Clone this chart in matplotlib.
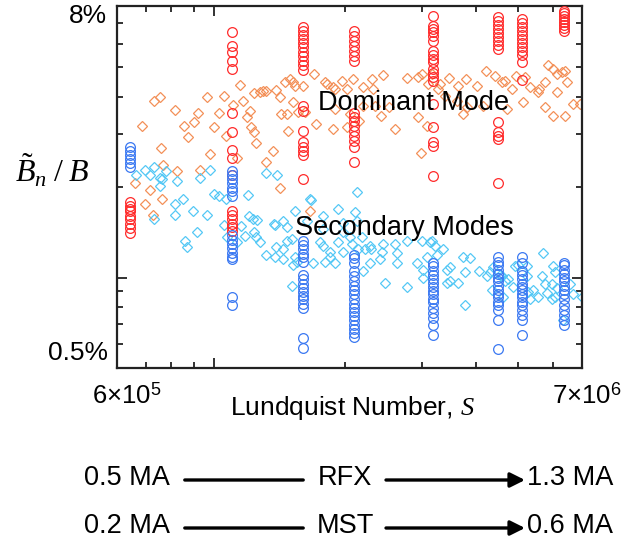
import matplotlib
matplotlib.use('Agg')
import matplotlib.pyplot as plt
from matplotlib.patches import FancyArrowPatch
from matplotlib.ticker import FixedLocator, NullFormatter

plt.rcParams['font.family'] = ['Liberation Sans', 'DejaVu Sans']
plt.rcParams['mathtext.fontset'] = 'custom'
plt.rcParams['mathtext.rm'] = 'Liberation Serif'
plt.rcParams['mathtext.it'] = 'Liberation Serif:italic'
plt.rcParams['mathtext.sf'] = 'Liberation Sans'

# experimental columns: Lundquist number (x 1e6) of each shot group
exp_S = [0.643, 1.10, 1.60, 2.10, 3.19, 4.49, 5.09, 6.35]

# dominant mode amplitude (%), one list per column
dom_exp = [
    [1.78, 1.73, 1.69, 1.66, 1.60, 1.56, 1.51, 1.46, 1.41],
    [6.55, 5.89, 5.62, 5.25, 4.93, 3.52, 3.04, 2.65, 2.49, 2.20, 1.66, 1.61, 1.56, 1.51, 1.47, 1.43],
    [6.81, 6.61, 6.41, 6.21, 6.02, 5.84, 5.62, 5.45, 5.25, 5.09, 4.90, 3.71, 3.57, 3.07, 2.82, 2.71, 2.63, 2.55, 2.12],
    [6.61, 6.35, 6.12, 5.89, 5.67, 5.45, 5.25, 3.52, 3.41, 3.31, 3.19, 3.07, 2.95, 2.84, 2.71, 2.43],
    [7.42, 6.87, 6.71, 6.56, 6.35, 6.12, 5.67, 5.50, 5.33, 5.20, 4.93, 4.78, 4.64, 4.50, 3.77, 3.16, 2.82, 2.73, 2.17],
    [7.36, 7.14, 6.93, 6.71, 6.51, 6.32, 6.12, 5.94, 5.75, 3.28, 3.05, 2.95, 2.88, 2.07],
    [7.24, 7.03, 6.81, 6.61, 6.41, 6.21, 6.02, 5.84, 5.67, 5.50, 5.20, 4.53],
    [7.71, 7.59, 7.42, 7.24, 7.08, 6.93, 6.76, 6.61],
]

# secondary modes amplitude (%), one list per column
sec_exp = [
    [2.71, 2.63, 2.55, 2.47, 2.40, 2.33],
    [2.26, 2.19, 2.12, 2.06, 1.99, 1.94, 1.86, 1.38, 1.33, 1.29, 1.25, 1.21, 1.17, 1.15, 0.858, 0.813],
    [1.32, 1.28, 1.24, 1.20, 1.17, 1.13, 1.02, 0.985, 0.955, 0.926, 0.898, 0.871, 0.845, 0.819, 0.794, 0.631, 0.585],
    [1.19, 1.16, 1.12, 1.05, 1.01, 0.97, 0.94, 0.912, 0.878, 0.845, 0.819, 0.794, 0.770, 0.747, 0.724, 0.697, 0.676, 0.655, 0.636],
    [1.12, 1.09, 1.05, 1.02, 0.99, 0.962, 0.933, 0.905, 0.878, 0.851, 0.826, 0.794, 0.764, 0.736, 0.697, 0.646],
    [1.17, 1.13, 1.10, 1.06, 1.03, 1.00, 0.970, 0.940, 0.912, 0.884, 0.858, 0.832, 0.807, 0.782, 0.724, 0.580],
    [1.17, 1.12, 1.05, 1.02, 0.985, 0.955, 0.933, 0.912, 0.884, 0.858, 0.832, 0.807, 0.782, 0.753, 0.724, 0.646],
    [1.12, 1.10, 1.06, 1.03, 1.00, 0.970, 0.940, 0.912, 0.878, 0.845, 0.813, 0.782, 0.753, 0.724, 0.697],
]

# simulation, dominant mode (S x 1e6, amplitude %)
dom_sim_S = [0.66, 0.695, 0.725, 0.714, 0.761, 0.685, 0.729, 0.753, 0.757, 0.765, 0.815, 0.824, 0.855, 0.873,
             0.901, 0.92, 0.93, 0.965, 0.98, 1.00, 1.03, 1.055, 1.07, 1.11, 1.13, 1.15, 1.17, 1.19, 1.21, 1.22,
             1.24, 1.24, 1.25, 1.28, 1.30, 1.32, 1.32, 1.37, 1.39, 1.42, 1.42, 1.43, 1.46, 1.47, 1.48, 1.50,
             1.52, 1.52, 1.54, 1.56, 1.60, 1.62, 1.66, 1.70, 1.72, 1.80, 1.82, 1.88, 1.88, 1.90, 1.90, 1.97,
             2.02, 2.02, 2.05, 2.09, 2.16, 2.20, 2.20, 2.31, 2.32, 2.34, 2.42, 2.44, 2.53, 2.60, 2.77, 2.94,
             2.94, 2.99, 3.00, 3.08, 3.10, 3.17, 3.27, 3.30, 3.39, 3.46, 3.61, 3.63, 3.73, 3.79, 3.81, 4.03,
             4.14, 4.21, 4.41, 4.58, 4.65, 4.70, 4.83, 4.93, 5.12, 5.17, 5.31, 5.54, 5.59, 5.75, 5.75, 5.84,
             6.00, 6.00, 6.12, 6.12, 6.29, 6.39, 6.39, 6.45, 6.66, 6.91]
dom_sim_B = [2.07, 1.75, 1.62, 1.96, 1.83, 3.19, 3.86, 3.98, 2.69, 2.36, 3.60, 2.26, 3.19, 2.93,
             3.29, 3.52, 2.27, 3.98, 2.57, 3.16, 3.52, 4.01, 2.95, 3.74, 2.49, 4.37, 3.86, 3.41, 3.57, 3.16,
             3.04, 4.11, 2.80, 4.14, 4.17, 4.17, 2.42, 2.63, 4.20, 3.98, 1.98, 3.49, 4.47, 3.49, 3.07, 4.57,
             4.47, 3.83, 4.33, 3.55, 4.33, 3.55, 1.66, 4.75, 3.24, 4.47, 4.40, 4.30, 3.11, 4.23, 3.63, 4.50,
             4.23, 3.16, 3.49, 4.57, 3.31, 4.30, 3.71, 4.57, 4.23, 3.71, 3.44, 4.71, 3.68, 3.11, 4.61, 4.64,
             3.41, 2.59, 4.75, 3.19, 4.40, 4.75, 4.23, 4.40, 4.01, 4.61, 3.86, 4.33, 3.49, 4.57, 3.68, 4.33,
             3.71, 4.86, 4.67, 4.47, 4.50, 3.63, 4.23, 4.67, 3.83, 4.64, 4.30, 4.14, 4.23, 4.47, 3.68, 5.09,
             4.93, 3.44, 4.75, 4.14, 4.83, 4.86, 3.44, 4.47, 3.77, 3.77]

# simulation, secondary modes (S x 1e6, amplitude %)
sec_sim_S = [0.663, 0.695, 0.729, 0.714, 0.753, 0.761, 0.753, 0.778, 0.824, 0.93, 0.98, 1.32, 1.40, 1.00,
             1.03, 1.07, 1.20, 1.66, 0.729, 0.815, 0.85, 0.815, 0.897, 0.965, 0.915, 0.859, 0.868, 1.205,
             1.23, 1.256, 1.155, 1.237, 1.25, 1.276, 1.317, 1.375, 1.389, 1.055, 1.072, 1.13, 1.18, 1.472,
             1.472, 1.536, 1.513, 1.552, 1.442, 1.521, 1.689, 2.13, 1.67, 1.78, 1.926, 1.382, 1.442, 1.636,
             1.513, 1.442, 1.382, 1.536, 1.78, 1.846, 1.846, 1.80, 1.896, 1.751, 1.926, 1.977, 2.073, 2.141,
             2.222, 2.281, 2.443, 2.405, 2.281, 2.198, 2.603, 2.631, 2.631, 2.773, 3.00, 2.923, 3.082, 2.469,
             2.773, 3.017, 3.017, 2.13, 1.977, 2.052, 2.108, 1.977, 1.78, 2.187, 2.293, 2.43, 3.165, 3.249,
             3.355, 3.425, 3.48, 3.63, 3.73, 3.87, 3.77, 3.77, 4.06, 4.30, 4.37, 4.53, 4.73, 4.85, 5.31, 5.54,
             5.69, 5.75, 6.00, 6.06, 6.12, 5.81, 5.97, 6.66, 6.99, 4.98, 5.23, 5.23, 5.39, 6.56, 6.32, 3.13,
             3.22, 3.48, 3.425, 4.23, 4.35, 4.58, 4.65, 4.91, 4.61, 5.26, 5.66, 5.97, 6.06]
sec_sim_B = [2.19, 2.27, 2.33, 2.20, 2.15, 2.12, 2.01, 2.26, 2.10, 2.15, 2.27, 2.22, 2.19, 1.89,
             1.86, 1.82, 1.88, 1.82, 1.56, 1.75, 1.82, 1.61, 1.66, 1.61, 1.42, 1.32, 1.26, 1.60,
             1.57, 1.55, 1.48, 1.42, 1.36, 1.31, 1.19, 1.51, 1.26, 1.50, 1.36, 1.31, 1.37, 1.32,
             1.47, 1.66, 0.94, 1.13, 1.15, 1.10, 1.12, 1.92, 1.81, 1.60, 1.69, 1.49, 1.54, 1.54,
             1.34, 1.24, 1.17, 1.17, 1.27, 1.22, 1.17, 1.13, 1.12, 1.31, 1.31, 1.22, 1.29, 1.24,
             1.24, 1.27, 1.29, 1.15, 1.12, 1.05, 1.29, 1.21, 1.12, 1.32, 1.32, 1.12, 1.17, 0.962,
             0.933, 1.06, 1.00, 1.54, 1.42, 1.36, 1.65, 1.52, 1.45, 1.36, 1.24, 1.22, 1.32, 1.19,
             1.24, 1.06, 0.97, 0.962, 1.17, 1.16, 1.04, 0.813, 1.05, 1.04, 1.08, 1.02, 0.985, 0.933, 0.845, 0.858,
             1.21, 0.948, 1.09, 1.04, 0.926, 0.891, 0.845, 0.878, 0.864, 1.10, 1.09, 1.01, 0.912, 0.948, 0.724, 1.31,
             1.27, 1.08, 0.962, 1.01, 0.912, 1.01, 0.97, 1.09, 0.858, 0.898, 1.01, 0.948, 0.858]

W, H = 637, 540
fig = plt.figure(figsize=(W / 100, H / 100), dpi=100)
ax = fig.add_axes([117 / W, 1 - 368 / H, 465 / W, 362 / H])

ax.plot([s * 1e6 for s in dom_sim_S], dom_sim_B, 'D', ls='none', mfc='none', mec='#f39058',
        ms=5.5, mew=0.9, zorder=2)
ax.plot([s * 1e6 for s in sec_sim_S], sec_sim_B, 'D', ls='none', mfc='none', mec='#55c8f5',
        ms=5.5, mew=0.9, zorder=2)

for s, vals in zip(exp_S, dom_exp):
    ax.plot([s * 1e6] * len(vals), vals, 'o', ls='none', mfc='none', mec='#ff2a2a',
            ms=7, mew=0.9, zorder=3)
for s, vals in zip(exp_S, sec_exp):
    ax.plot([s * 1e6] * len(vals), vals, 'o', ls='none', mfc='none', mec='#3a78f2',
            ms=7, mew=0.9, zorder=3)

ax.set_xscale('log')
ax.set_yscale('log')
ax.set_xlim(6e5, 7e6)
ax.set_ylim(0.5, 8)

ax.xaxis.set_major_locator(FixedLocator([1e6]))
ax.xaxis.set_minor_locator(FixedLocator([7e5, 8e5, 9e5, 2e6, 3e6, 4e6, 5e6, 6e6]))
ax.yaxis.set_major_locator(FixedLocator([1]))
ax.yaxis.set_minor_locator(FixedLocator([0.6, 0.7, 0.8, 0.9, 2, 3, 4, 5, 6, 7]))
for axis in (ax.xaxis, ax.yaxis):
    axis.set_minor_formatter(NullFormatter())
ax.tick_params(which='both', direction='in', top=True, right=True,
               labelbottom=False, labelleft=False, width=1.3, color='#222222')
ax.tick_params(which='major', length=7)
ax.tick_params(which='minor', length=4.5)
for sp in ax.spines.values():
    sp.set_linewidth(1.6)
    sp.set_color('#222222')

ax.text(0.432, 0.732, 'Dominant Mode', transform=ax.transAxes, fontsize=19.5,
        va='center', ha='left', zorder=5)
ax.text(0.383, 0.387, 'Secondary Modes', transform=ax.transAxes, fontsize=19.5,
        va='center', ha='left', zorder=5)

# axis end labels
fig.text(107 / W, 1 - 16 / H, '8%', fontsize=19, ha='right', va='center')
fig.text(108 / W, 1 - 353 / H, '0.5%', fontsize=19, ha='right', va='center')
fig.text(52 / W, 1 - 171 / H, r'$\tilde{B}_n\;/\;B$', fontsize=23, ha='center', va='center')
fig.text(127 / W, 1 - 396 / H, r'6×10$^{\mathsf{5}}$', fontsize=18.5, ha='center', va='center')
fig.text(587 / W, 1 - 396 / H, r'7×10$^{\mathsf{6}}$', fontsize=18.5, ha='center', va='center')
fig.text(352 / W, 1 - 415 / H, r'Lundquist Number, $S$', fontsize=19, ha='center', va='baseline')

# current ranges of the two devices
rows = [('0.5 MA', 'RFX', '1.3 MA', 478), ('0.2 MA', 'MST', '0.6 MA', 526)]
for lo, name, hi, yp in rows:
    fy = 1 - yp / H
    fig.text(170 / W, fy, lo, fontsize=19.5, ha='right', va='center')
    fig.text(345 / W, fy, name, fontsize=19.5, ha='center', va='center')
    fig.text(527 / W, fy, hi, fontsize=19.5, ha='left', va='center')
    fy_l = 1 - (yp + 2) / H
    fig.add_artist(FancyArrowPatch((182 / W, fy_l), (306 / W, fy_l), transform=fig.transFigure,
                                   arrowstyle='-', lw=2.4, color='black'))
    fig.add_artist(FancyArrowPatch((386 / W, fy_l), (525 / W, fy_l), transform=fig.transFigure,
                                   arrowstyle='-|>', mutation_scale=22, lw=2.4, color='black',
                                   shrinkA=0, shrinkB=0))

fig.savefig('out.png', dpi=100)
